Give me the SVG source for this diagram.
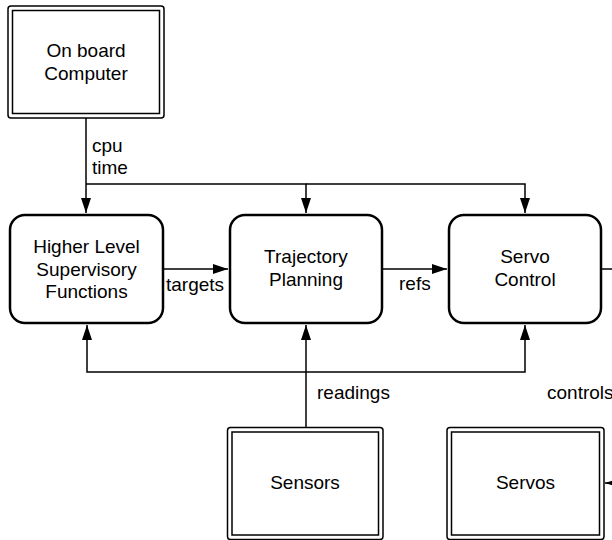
<svg xmlns="http://www.w3.org/2000/svg" width="612" height="540" viewBox="0 0 612 540">
<style>
text{font-family:"Liberation Sans",Arial,sans-serif;font-size:19px;fill:#000}
.c{text-anchor:middle}
.rb{fill:#fff;stroke:#000;stroke-width:2.5}
.ob{fill:#fff;stroke:#000;stroke-width:1.5}
.ln{fill:none;stroke:#000;stroke-width:1.5}
</style>
<defs>
<marker id="ah" markerUnits="userSpaceOnUse" markerWidth="16" markerHeight="11" refX="15" refY="5" orient="auto">
<path d="M0,0 L15,5 L0,10 z" fill="#000"/>
</marker>
</defs>
<rect width="612" height="540" fill="#fff"/>
<g id="connectors">
<path class="ln" d="M86,118 V213" marker-end="url(#ah)"/>
<path class="ln" d="M86,184 H306 V213" marker-end="url(#ah)"/>
<path class="ln" d="M306,184 H525 V213" marker-end="url(#ah)"/>
<path class="ln" d="M163,269 H228" marker-end="url(#ah)"/>
<path class="ln" d="M382,269 H447" marker-end="url(#ah)"/>
<path class="ln" d="M601,269 H614"/>
<path class="ln" d="M306,427 V325" marker-end="url(#ah)"/>
<path class="ln" d="M306,372 H87 V325" marker-end="url(#ah)"/>
<path class="ln" d="M306,372 H525 V325" marker-end="url(#ah)"/>
<path class="ln" d="M621,483 H605" marker-end="url(#ah)"/>
<text x="92" y="151.5">cpu</text>
<text x="92" y="173.5">time</text>
<text x="166" y="291">targets</text>
<text x="399" y="290">refs</text>
<text x="317" y="399">readings</text>
<text x="547" y="399">controls</text>
</g>
<g id="computer">
<rect class="ob" x="8" y="6" width="156" height="112" rx="3"/>
<rect class="ob" x="12.5" y="10.5" width="147" height="103"/>
<text class="c" x="86" y="57">On board</text>
<text class="c" x="86" y="79.5">Computer</text>
</g>
<g id="supervisory">
<rect class="rb" x="10" y="215" width="153" height="108" rx="15"/>
<text class="c" x="86.5" y="253">Higher Level</text>
<text class="c" x="86.5" y="275.5">Supervisory</text>
<text class="c" x="86.5" y="298">Functions</text>
</g>
<g id="trajectory">
<rect class="rb" x="230" y="215" width="152" height="108" rx="15"/>
<text class="c" x="306" y="263">Trajectory</text>
<text class="c" x="306" y="285.5">Planning</text>
</g>
<g id="servo-control">
<rect class="rb" x="449" y="215" width="152" height="108" rx="15"/>
<text class="c" x="525" y="263">Servo</text>
<text class="c" x="525" y="285.5">Control</text>
</g>
<g id="sensors">
<rect class="ob" x="227.5" y="427.5" width="155.5" height="112" rx="3"/>
<rect class="ob" x="232" y="432" width="146.5" height="103"/>
<text class="c" x="305" y="489">Sensors</text>
</g>
<g id="servos">
<rect class="ob" x="447" y="427.5" width="157" height="112" rx="3"/>
<rect class="ob" x="451.5" y="432" width="148" height="103"/>
<text class="c" x="525.5" y="489">Servos</text>
</g>
</svg>
